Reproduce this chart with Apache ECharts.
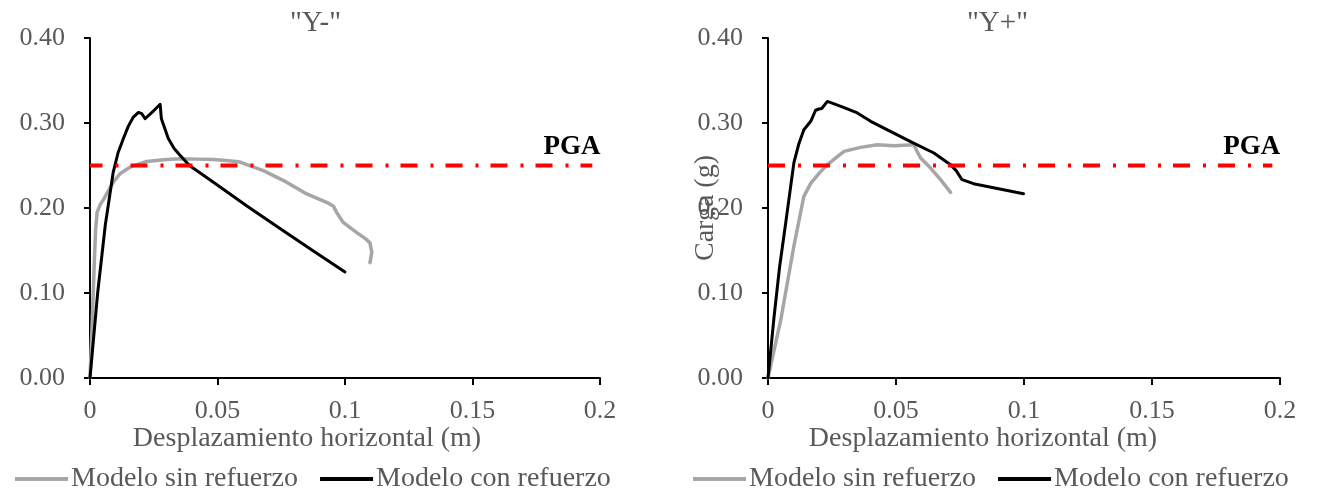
<!DOCTYPE html>
<html>
<head>
<meta charset="utf-8">
<script src="https://cdn.jsdelivr.net/npm/echarts@6/dist/echarts.min.js"></script>
<style>
  html, body { margin: 0; padding: 0; background: #fff; }
  #chart { width: 1317px; height: 491px; }
</style>
</head>
<body>
<div id="chart"></div>
<script>
// Pushover curves: load (g) vs horizontal displacement (m), two directions
const panelTitles = ['"Y-"', '"Y+"'];
const seriesNames = ['Modelo sin refuerzo', 'Modelo con refuerzo'];
const xTicks = { min: 0, max: 0.2, interval: 0.05 };
const yTicks = { min: 0, max: 0.4, interval: 0.1 };
const pgaValue = 0.25;
const pgaExtent = [0, 0.197];
const pgaLabelX = 0.189;

// "Y-" direction
const sinRefuerzoYm = [
  [0, 0], [0.0008, 0.06], [0.0015, 0.12], [0.0022, 0.175], [0.0028, 0.195],
  [0.004, 0.204], [0.0055, 0.211], [0.0075, 0.222], [0.0095, 0.232], [0.012, 0.241],
  [0.0157, 0.248], [0.0222, 0.2548], [0.03, 0.257], [0.0353, 0.258], [0.042, 0.2575],
  [0.0484, 0.257], [0.0545, 0.2555], [0.0588, 0.254], [0.068, 0.244], [0.0771, 0.2304],
  [0.085, 0.2166], [0.0928, 0.2067], [0.0955, 0.202], [0.0967, 0.1949], [0.0993, 0.183],
  [0.1046, 0.171], [0.108, 0.164], [0.1098, 0.159], [0.1105, 0.1476], [0.1098, 0.1357]
];
const conRefuerzoYm = [
  [0, 0], [0.003, 0.1], [0.006, 0.18], [0.0091, 0.242], [0.011, 0.265],
  [0.0131, 0.2817], [0.015, 0.296], [0.017, 0.307], [0.019, 0.3124], [0.0203, 0.311],
  [0.0216, 0.305], [0.0245, 0.313], [0.0275, 0.322], [0.028, 0.305], [0.0307, 0.2817],
  [0.033, 0.27], [0.0353, 0.262], [0.039, 0.25], [0.0484, 0.2304], [0.0614, 0.2027],
  [0.0745, 0.176], [0.0876, 0.1495], [0.1, 0.1247]
];

// "Y+" direction
const sinRefuerzoYp = [
  [0, 0], [0.005, 0.0686], [0.0101, 0.155], [0.014, 0.2137], [0.0167, 0.229],
  [0.02, 0.241], [0.0232, 0.251], [0.0297, 0.2666], [0.0362, 0.2713], [0.0427, 0.2745],
  [0.0492, 0.2733], [0.057, 0.2745], [0.058, 0.268], [0.0596, 0.2588], [0.0635, 0.247],
  [0.0674, 0.2333], [0.0713, 0.2184]
];
const conRefuerzoYp = [
  [0, 0], [0.0023, 0.07], [0.0045, 0.13], [0.0069, 0.182], [0.0101, 0.253],
  [0.012, 0.275], [0.014, 0.292], [0.0167, 0.302], [0.0186, 0.315], [0.0199, 0.3165],
  [0.021, 0.317], [0.0232, 0.3254], [0.029, 0.319], [0.0349, 0.3118], [0.0401, 0.302],
  [0.0557, 0.278], [0.0648, 0.2647], [0.0713, 0.251], [0.0735, 0.244], [0.0758, 0.2333],
  [0.0803, 0.2286], [0.0998, 0.2168]
];

const FONT = '"Liberation Serif", "Times New Roman", serif';
const TEXT_GREY = '#595959';
const COLOR_SIN = '#A6A6A6';
const COLOR_CON = '#000000';

// The axis title sits centred on the whole panel, a little left of the plot centre
function xAxisFor(gridIndex, shiftPad) {
  return {
    type: 'value', gridIndex,
    min: xTicks.min, max: xTicks.max, interval: xTicks.interval,
    name: 'Desplazamiento horizontal (m)',
    nameLocation: 'middle', nameGap: 47, nameMoveOverlap: false,
    nameTextStyle: { fontFamily: FONT, fontSize: 28, color: TEXT_GREY, padding: [0, shiftPad, 0, 0] },
    axisLine: { show: true, onZero: false, lineStyle: { color: '#000', width: 2 } },
    axisTick: { show: true, length: 7, lineStyle: { color: '#000', width: 2 } },
    axisLabel: { fontFamily: FONT, fontSize: 26, color: TEXT_GREY, margin: 20 },
    splitLine: { show: false }
  };
}

function yAxisFor(gridIndex, withName) {
  return {
    type: 'value', gridIndex,
    min: yTicks.min, max: yTicks.max, interval: yTicks.interval,
    name: withName ? 'Carga (g)' : '',
    nameLocation: 'middle', nameGap: 48, nameMoveOverlap: false,
    nameTextStyle: { fontFamily: FONT, fontSize: 28, color: TEXT_GREY },
    axisLine: { show: true, lineStyle: { color: '#000', width: 2 } },
    axisTick: { show: true, length: 6, lineStyle: { color: '#000', width: 2 } },
    axisLabel: {
      fontFamily: FONT, fontSize: 26, color: TEXT_GREY, margin: 25,
      formatter: v => v.toFixed(2)
    },
    splitLine: { show: false }
  };
}

function curve(name, data, color, idx, width) {
  return {
    name, type: 'line', data,
    xAxisIndex: idx, yAxisIndex: idx,
    showSymbol: false, symbol: 'none',
    lineStyle: { color, width, join: 'round', cap: 'round' },
    itemStyle: { color },
    z: name === seriesNames[1] ? 4 : 3
  };
}

function pgaLine(idx, offset) {
  return {
    name: 'PGA', type: 'line',
    xAxisIndex: idx, yAxisIndex: idx,
    data: [[pgaExtent[0], pgaValue], [pgaExtent[1], pgaValue]],
    showSymbol: false, symbol: 'none',
    lineStyle: { color: '#FF0000', width: 4, type: [17, 13, 3, 12], dashOffset: offset, cap: 'butt' },
    markPoint: {
      symbol: 'rect', symbolSize: 1,
      itemStyle: { color: 'rgba(0,0,0,0)' },
      label: {
        show: true, position: 'top', distance: 4,
        formatter: 'PGA',
        fontFamily: FONT, fontSize: 27, fontWeight: 'bold', color: '#000'
      },
      data: [{ coord: [pgaLabelX, pgaValue] }]
    },
    z: 5
  };
}

const legendCommon = {
  top: 460,
  itemWidth: 53, itemHeight: 4, itemGap: 22,
  icon: 'rect',
  data: seriesNames,
  textStyle: { fontFamily: FONT, fontSize: 28, color: TEXT_GREY, padding: [0, 0, 0, -2] }
};

const titleStyle = { fontFamily: FONT, fontSize: 29, fontWeight: 'normal', color: TEXT_GREY };

const option = {
  animation: false,
  backgroundColor: '#ffffff',
  title: [
    { text: panelTitles[0], left: 285, top: 4, textStyle: titleStyle },
    { text: panelTitles[1], left: 962, top: 4, textStyle: titleStyle }
  ],
  legend: [
    Object.assign({ left: 10 }, legendCommon),
    Object.assign({ left: 688 }, legendCommon)
  ],
  grid: [
    { left: 90, top: 38, width: 510, height: 340 },
    { left: 768, top: 38, width: 512, height: 340 }
  ],
  xAxis: [xAxisFor(0, 76), xAxisFor(1, 82)],
  yAxis: [yAxisFor(0, false), yAxisFor(1, true)],
  series: [
    curve(seriesNames[0], sinRefuerzoYm, COLOR_SIN, 0, 3.5),
    curve(seriesNames[1], conRefuerzoYm, COLOR_CON, 0, 3),
    pgaLine(0, 4.5),
    curve(seriesNames[0], sinRefuerzoYp, COLOR_SIN, 1, 3.5),
    curve(seriesNames[1], conRefuerzoYp, COLOR_CON, 1, 3),
    pgaLine(1, 0)
  ]
};

const chart = echarts.init(document.getElementById('chart'), null, { renderer: 'canvas' });
chart.setOption(option);
</script>
</body>
</html>
